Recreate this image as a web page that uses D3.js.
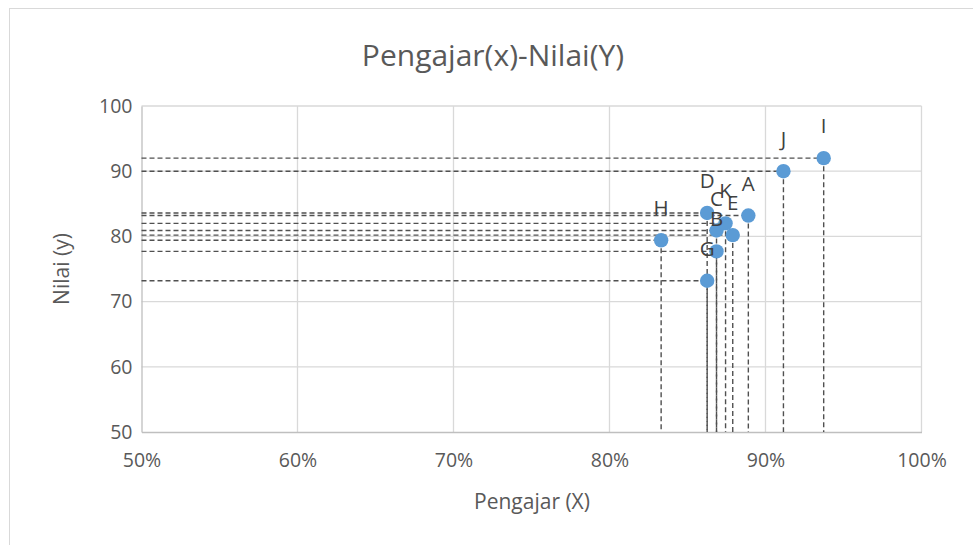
<!DOCTYPE html>
<html>
<head>
<meta charset="utf-8">
<script src="https://cdn.jsdelivr.net/npm/d3@7"></script>
<style>
  html, body { margin: 0; padding: 0; background: #fff; }
  svg { display: block; font-family: "Open Sans", "Liberation Sans", sans-serif; }
</style>
</head>
<body>
<svg id="chart" width="973" height="545"></svg>
<script>
// Teacher score (X, as a share) against grade (Y), one point per label
const labels = ["A", "B", "C", "D", "E", "G", "H", "I", "J", "K"];
const pengajar = [0.889, 0.8686, 0.8686, 0.8626, 0.879, 0.8626, 0.8331, 0.9373, 0.9115, 0.8744];
const nilai = [83.2, 77.7, 80.9, 83.6, 80.2, 73.2, 79.4, 92.0, 90.0, 82.0];

const xTicks = [0.5, 0.6, 0.7, 0.8, 0.9, 1.0];
const yTicks = [50, 60, 70, 80, 90, 100];

const svg = d3.select("#chart");
const W = 973, H = 545;
const plot = { left: 141.5, right: 921.5, top: 106, bottom: 432 };

// Chart frame
svg.append("rect")
  .attr("x", 9.5).attr("y", 8.5)
  .attr("width", W + 20).attr("height", H + 20)
  .attr("fill", "#fff").attr("stroke", "#d9d9d9").attr("stroke-width", 1);

const x = d3.scaleLinear().domain([0.5, 1.0]).range([plot.left, plot.right]);
const y = d3.scaleLinear().domain([50, 100]).range([plot.bottom, plot.top]);

// Gridlines
const grid = svg.append("g");
grid.selectAll("line.v").data(xTicks.slice(1)).join("line")
  .attr("x1", d => x(d)).attr("x2", d => x(d))
  .attr("y1", plot.top).attr("y2", plot.bottom)
  .attr("stroke", "#d9d9d9").attr("stroke-width", 1.3);
grid.selectAll("line.h").data(yTicks.slice(1)).join("line")
  .attr("x1", plot.left).attr("x2", plot.right)
  .attr("y1", d => y(d)).attr("y2", d => y(d))
  .attr("stroke", "#d9d9d9").attr("stroke-width", 1.3);

// Axes
const xAxis = svg.append("g")
  .attr("transform", `translate(0,${plot.bottom})`)
  .call(d3.axisBottom(x).tickValues(xTicks).tickSize(0).tickPadding(21)
    .tickFormat(d3.format(".0%")));
const yAxis = svg.append("g")
  .attr("transform", `translate(${plot.left},0)`)
  .call(d3.axisLeft(y).tickValues(yTicks).tickSize(0).tickPadding(9));
[xAxis, yAxis].forEach(g => {
  g.select(".domain").attr("stroke", "#bfbfbf").attr("stroke-width", 1.3);
  g.selectAll("text").attr("fill", "#595959").attr("font-size", 19.5)
    .attr("font-family", "'Open Sans', 'Liberation Sans', sans-serif");
});

const pts = labels.map((l, i) => ({ label: l, x: pengajar[i], y: nilai[i] }));

// Drop lines to both axes
const drops = svg.append("g")
  .attr("stroke", "#505050").attr("stroke-width", 1.4)
  .attr("stroke-dasharray", "5,3").attr("fill", "none");
drops.selectAll("line.hx").data(pts).join("line")
  .attr("x1", plot.left).attr("x2", d => x(d.x))
  .attr("y1", d => y(d.y)).attr("y2", d => y(d.y));
drops.selectAll("line.vy").data(pts).join("line")
  .attr("x1", d => x(d.x)).attr("x2", d => x(d.x))
  .attr("y1", d => y(d.y)).attr("y2", plot.bottom);

// Markers
svg.append("g").selectAll("circle").data(pts).join("circle")
  .attr("cx", d => x(d.x)).attr("cy", d => y(d.y)).attr("r", 7.2)
  .attr("fill", "#5b9bd5");

// Point labels, centred above each marker
svg.append("g").selectAll("text").data(pts).join("text")
  .attr("x", d => x(d.x)).attr("y", d => y(d.y) - 25)
  .attr("text-anchor", "middle")
  .attr("font-size", 20.5).attr("fill", "#404040")
  .text(d => d.label);

// Title and axis titles
svg.append("text")
  .attr("x", 493).attr("y", 66).attr("text-anchor", "middle")
  .attr("font-size", 30).attr("fill", "#595959")
  .text("Pengajar(x)-Nilai(Y)");
svg.append("text")
  .attr("x", 532).attr("y", 509).attr("text-anchor", "middle")
  .attr("font-size", 21).attr("fill", "#595959")
  .text("Pengajar (X)");
svg.append("text")
  .attr("transform", `translate(69,${(plot.top + plot.bottom) / 2}) rotate(-90)`)
  .attr("text-anchor", "middle")
  .attr("font-size", 21).attr("fill", "#595959")
  .text("Nilai (y)");
</script>
</body>
</html>
